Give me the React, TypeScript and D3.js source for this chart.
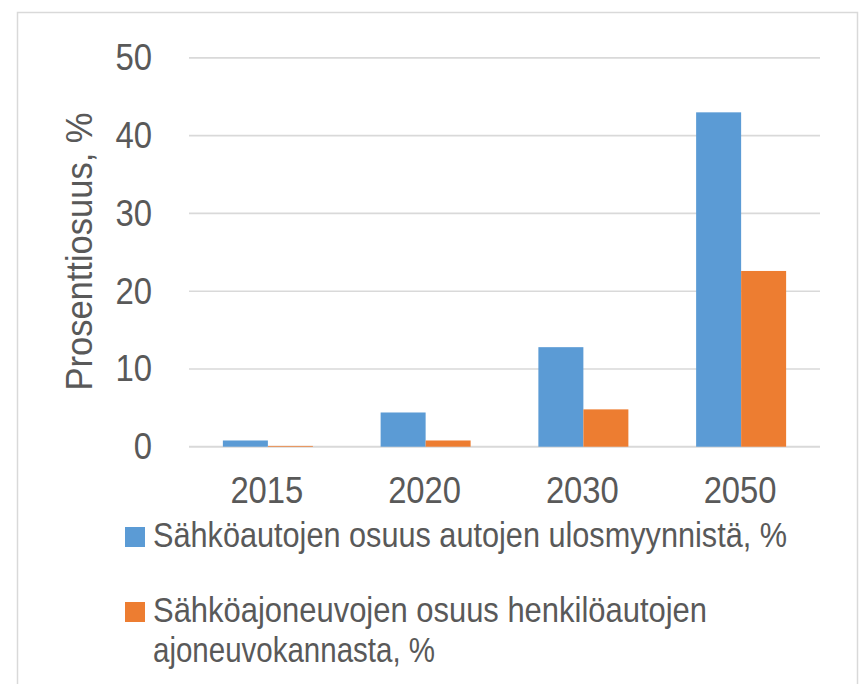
import React from "react";
import * as d3 from "d3";

const categories = ["2015", "2020", "2030", "2050"];
const seriesNames = [
  "Sähköautojen osuus autojen ulosmyynnistä, %",
  "Sähköajoneuvojen osuus henkilöautojen ajoneuvokannasta, %",
];
const legendLines = [
  ["Sähköautojen osuus autojen ulosmyynnistä, %"],
  ["Sähköajoneuvojen osuus henkilöautojen", "ajoneuvokannasta, %"],
];
const salesShare = [0.8, 4.4, 12.8, 43.0];
const fleetShare = [0.1, 0.8, 4.8, 22.6];
const yTicks = [0, 10, 20, 30, 40, 50];
const yTitle = "Prosenttiosuus, %";
const colors = ["#5b9bd5", "#ed7d31"];

const W = 861;
const H = 684;
const textColor = "#595959";
const gridColor = "#d9d9d9";
const FONT = "'Liberation Sans', Arial, sans-serif";

export default function App() {
  const y = d3.scaleLinear().domain([0, 50]).range([446.7, 57.9]);
  const x = d3.scaleBand<string>().domain(categories).range([189, 820]).padding(0);
  const barW = 45;
  const inner = d3
    .scaleBand<number>()
    .domain([0, 1])
    .range([-barW, barW])
    .padding(0);
  const series = [salesShare, fleetShare];

  const digitW = 18.3;
  const legendBase = 30;
  const legendScaleY = 35 / legendBase;
  const legendItems = [
    { square: 527, lines: [{ y: 547, len: 634 }] },
    {
      square: 602,
      lines: [
        { y: 621.7, len: 554 },
        { y: 661.7, len: 282 },
      ],
    },
  ];

  return (
    <svg
      width={W}
      height={H}
      style={{ position: "absolute", left: 0, top: 0, background: "#fff" }}
      fontFamily={FONT}
    >
      <title>{seriesNames.join(" / ")}</title>
      <rect x={0} y={0} width={W} height={H} fill="#fff" />
      <rect
        x={17.5}
        y={12.5}
        width={840}
        height={700}
        fill="#fff"
        stroke={gridColor}
        strokeWidth={1.5}
      />
      {/* gridlines */}
      {yTicks.map((t) => (
        <line
          key={"g" + t}
          x1={189}
          x2={820}
          y1={y(t)}
          y2={y(t)}
          stroke={gridColor}
          strokeWidth={t === 0 ? 2 : 1.6}
        />
      ))}
      {/* bars */}
      {series.map((vals, si) =>
        categories.map((c, ci) => {
          const cx = (x(c) as number) + x.bandwidth() / 2;
          const x0 = cx + (inner(si) as number);
          const top = y(vals[ci]);
          return (
            <rect
              key={si + "-" + c}
              x={x0}
              y={top}
              width={inner.bandwidth()}
              height={y(0) - top}
              fill={colors[si]}
            />
          );
        })
      )}
      {/* y tick labels */}
      {yTicks.map((t) => (
        <text
          key={"yl" + t}
          x={152}
          y={y(t) + 12.5}
          textAnchor="end"
          fontSize={36}
          fill={textColor}
          textLength={String(t).length * digitW}
          lengthAdjust="spacingAndGlyphs"
        >
          {t}
        </text>
      ))}
      {/* x tick labels */}
      {categories.map((c) => (
        <text
          key={"xl" + c}
          x={(x(c) as number) + x.bandwidth() / 2 - 1}
          y={503.3}
          textAnchor="middle"
          fontSize={36}
          fill={textColor}
          textLength={73}
          lengthAdjust="spacingAndGlyphs"
        >
          {c}
        </text>
      ))}
      {/* y title */}
      <text
        transform={`translate(92,251.5) rotate(-90)`}
        textAnchor="middle"
        fontSize={36}
        fill={textColor}
        textLength={278}
        lengthAdjust="spacingAndGlyphs"
      >
        {yTitle}
      </text>
      {/* legend */}
      {legendItems.map((item, i) => (
        <g key={"lg" + i}>
          <rect x={125} y={item.square} width={20} height={20} fill={colors[i]} />
          {item.lines.map((ln, j) => (
            <text
              key={"lt" + i + j}
              transform={`translate(153,${ln.y}) scale(1,${legendScaleY})`}
              fontSize={legendBase}
              fill={textColor}
              textLength={ln.len}
              lengthAdjust="spacingAndGlyphs"
            >
              {legendLines[i][j]}
            </text>
          ))}
        </g>
      ))}
    </svg>
  );
}
